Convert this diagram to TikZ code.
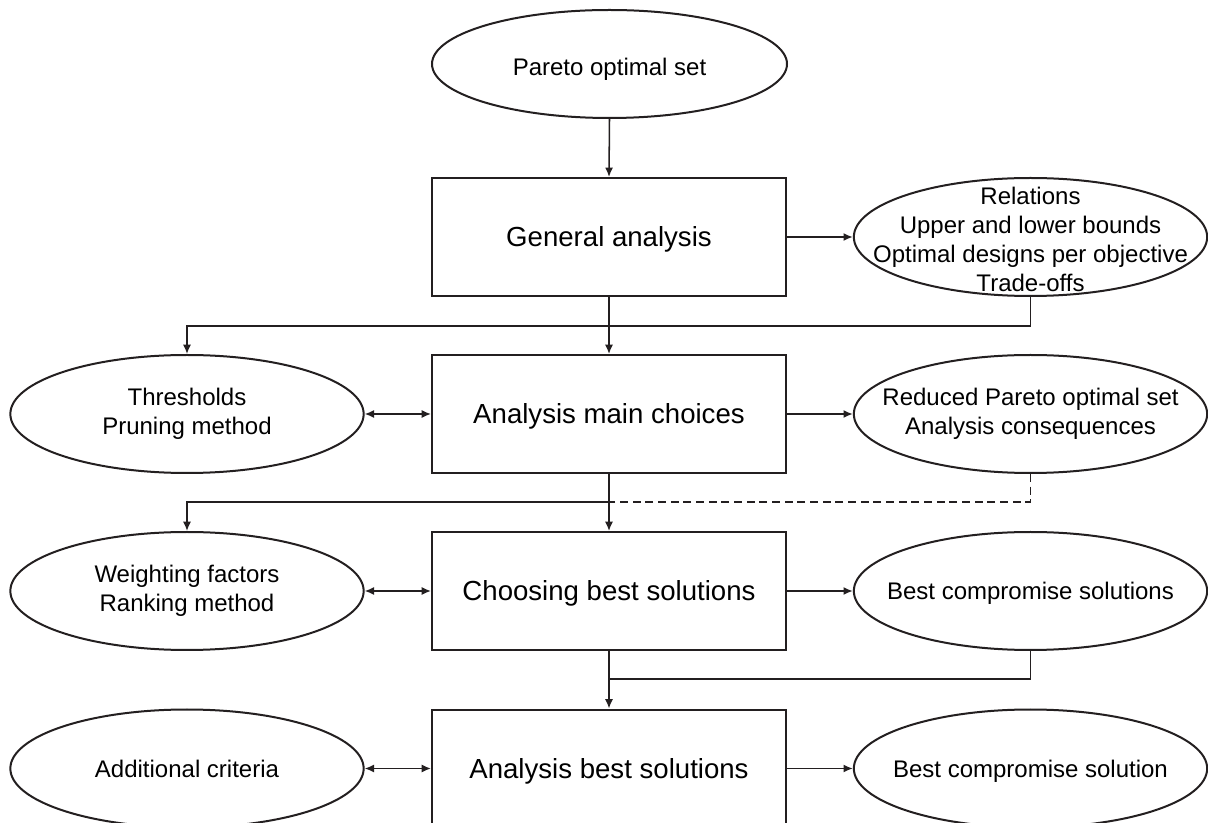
\documentclass[tikz,border=0pt]{standalone}
\usepackage{fontspec}
\setmainfont{Liberation Sans}
\usetikzlibrary{shapes.geometric,arrows.meta}
\definecolor{ink}{RGB}{35,31,32}
\tikzset{
  tip/.tip={Latex[length=7pt,width=6pt]},
  box/.style={draw=ink, line width=1.5pt, rectangle, minimum width=265.5pt,
    minimum height=88.5pt, inner sep=0pt, font=\fontsize{20.7pt}{24pt}\selectfont,
    text=black, text height=14.8pt, text depth=0pt},
  ovalshape/.style={draw=ink, line width=1.5pt, ellipse, minimum width=265pt,
    minimum height=88.5pt, inner sep=0pt},
  ovaltext/.style={align=center, font=\fontsize{18pt}{21.75pt}\selectfont, text=black},
  % several lines of text
  oval/.style={ovalshape, label={[ovaltext]center:#1}},
  % a single line, centred on its capitals
  ovalone/.style={ovalshape,
    label={[ovaltext, text height=12.9pt, text depth=0pt]center:#1}},
  conn/.style={draw=ink, line width=1.15pt},
  arr/.style={conn, -tip},
  darr/.style={conn, tip-tip},
  dashline/.style={conn, dash pattern=on 6pt off 3.5pt}
}
\begin{document}
\begin{tikzpicture}[x=0.75pt, y=-0.75pt]
\useasboundingbox (0,0) rectangle (1208,823);
\clip (0,0) rectangle (1208,823);

% top input
\node[ovalshape, minimum width=266.25pt, minimum height=81pt,
  label={[ovaltext, text height=12.9pt, text depth=0pt, yshift=-2.5pt]center:Pareto optimal set}]
  (pos) at (609.5,64) {};

% main column of process steps
\node[box] (ga) at (609,237) {General analysis};
\node[box] (mc) at (609,414) {Analysis main choices};
\node[box] (cb) at (609,591) {Choosing best solutions};
\node[box] (ab) at (609,768.5) {Analysis best solutions};

% inputs on the left
\node[oval={Thresholds\\Pruning method}] (thr) at (187,414) {};
\node[oval={Weighting factors\\Ranking method}] (wf) at (187,591) {};
\node[ovalone={Additional criteria}] (ac) at (187,768.5) {};

% outputs on the right
\node[ovalshape, label={[ovaltext, yshift=-2pt]center:Relations\\Upper and lower bounds\\Optimal designs per objective\\Trade-offs}]
  (rel) at (1030.5,237) {};
\node[oval={Reduced Pareto optimal set\\Analysis consequences}] (red) at (1030.5,414) {};
\node[ovalone={Best compromise solutions}] (bcs) at (1030.5,591) {};
\node[ovalone={Best compromise solution}] (bs) at (1030.5,768.5) {};

% levels of the horizontal feedback lines
\coordinate (y1) at (0,326);
\coordinate (y2) at (0,502);
\coordinate (y3) at (0,679);

% main flow
\draw[arr] (pos.south) -- (ga.north);
\draw[arr] (ga.south) -- (mc.north);
\draw[arr] (mc.south) -- (cb.north);
\draw[arr] (cb.south) -- (ab.north);

% outputs
\draw[arr] (ga.east) -- (rel.west);
\draw[arr] (mc.east) -- (red.west);
\draw[arr] (cb.east) -- (bcs.west);
\draw[arr] (ab.east) -- (bs.west);

% inputs
\draw[darr] (thr.east) -- (mc.west);
\draw[darr] (wf.east) -- (cb.west);
\draw[darr] (ac.east) -- (ab.west);

% feedback lines
\draw[arr] (rel.south) -- (rel.south |- y1) -| (thr.north);
\draw[arr] (mc.south |- y2) -| (wf.north);
\draw[dashline] (red.south) -- (red.south |- y2) -- (mc.south |- y2);
\draw[conn] (bcs.south) -- (bcs.south |- y3) -- (cb.south |- y3);
\end{tikzpicture}
\end{document}
